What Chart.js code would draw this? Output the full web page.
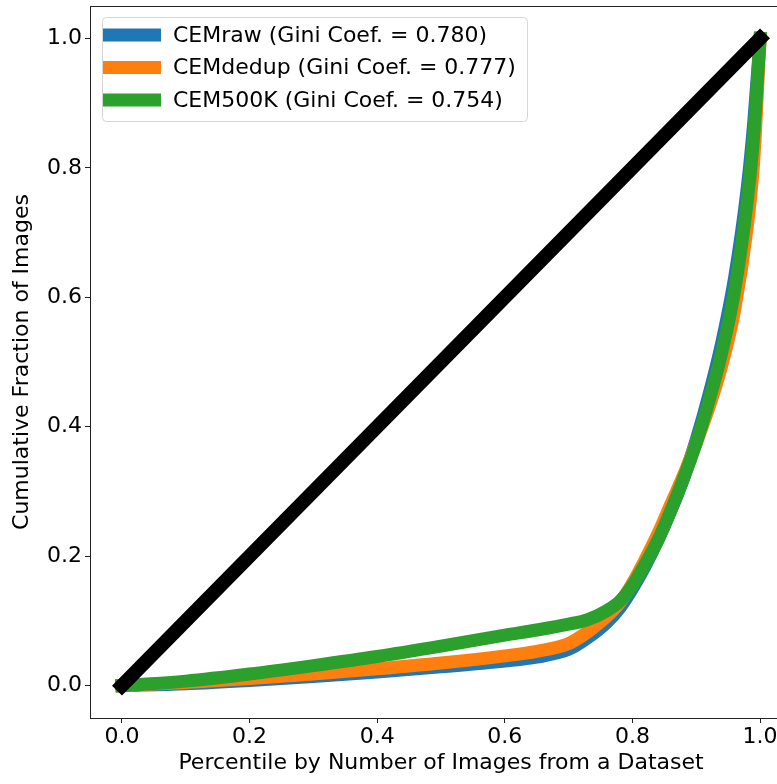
<!DOCTYPE html>
<html>
<head>
<meta charset="utf-8">
<script src="https://cdn.jsdelivr.net/npm/chart.js@4"></script>
<style>
  html, body { margin: 0; padding: 0; background: #fff; overflow: hidden; }
  #wrap { width: 800px; height: 784px; }
</style>
</head>
<body>
<div id="wrap"><canvas id="lorenz" width="800" height="784"></canvas></div>
<script>
// percentile positions shared by the three curves
const percentiles = [0, 0.1, 0.2, 0.3, 0.4, 0.5, 0.6, 0.65, 0.7, 0.73, 0.76, 0.78, 0.8,
                     0.82, 0.84, 0.86, 0.88, 0.9, 0.92, 0.94, 0.96, 0.98, 0.99, 1.0];

// cumulative fraction of images
const cemRaw   = [0, 0.003, 0.008, 0.014, 0.021, 0.029, 0.038, 0.044, 0.056, 0.074, 0.098, 0.12, 0.15,
                  0.185, 0.225, 0.27, 0.32, 0.38, 0.45, 0.53, 0.63, 0.77, 0.87, 1.0];
const cemDedup = [0, 0.005, 0.011, 0.018, 0.026, 0.035, 0.046, 0.053, 0.065, 0.083, 0.107, 0.128, 0.158,
                  0.195, 0.235, 0.28, 0.325, 0.375, 0.43, 0.495, 0.58, 0.71, 0.81, 1.0];
const cem500k  = [0, 0.007, 0.018, 0.031, 0.045, 0.061, 0.078, 0.086, 0.095, 0.102, 0.116, 0.13, 0.155,
                  0.188, 0.225, 0.27, 0.32, 0.375, 0.44, 0.515, 0.61, 0.75, 0.85, 1.0];

// line of equality
const equalityX = [0, 1];
const equalityY = [0, 1];

const seriesLabels = ['CEMraw (Gini Coef. = 0.780)', 'CEMdedup (Gini Coef. = 0.777)', 'CEM500K (Gini Coef. = 0.754)'];
const seriesColors = ['#1f77b4', '#ff7f0e', '#2ca02c'];

const xTicks = [0, 0.2, 0.4, 0.6, 0.8, 1.0];
const yTicks = [0, 0.2, 0.4, 0.6, 0.8, 1.0];

const FONT = 'DejaVu Sans';

function toPoints(xs, ys) {
    return xs.map((x, i) => ({ x: x, y: ys[i] }));
}

// frame around the plot (matplotlib style spines)
const framePlugin = {
    id: 'frame',
    beforeDatasetsDraw(chart) {
        const { ctx, chartArea: a } = chart;
        ctx.save();
        ctx.strokeStyle = '#222';
        ctx.lineWidth = 1;
        ctx.strokeRect(Math.round(a.left) + 0.5, Math.round(a.top) + 0.5,
                       Math.round(a.right - a.left), Math.round(a.bottom - a.top));
        ctx.restore();
    }
};

// legend box drawn inside the plot, upper left
const insideLegend = {
    id: 'insideLegend',
    afterDraw(chart) {
        const { ctx, chartArea: a } = chart;
        const x0 = a.left + 12, y0 = a.top + 11;
        const w = 425, h = 104, r = 4;
        ctx.save();
        ctx.beginPath();
        ctx.roundRect(x0 + 0.5, y0 + 0.5, w, h, r);
        ctx.fillStyle = 'rgba(255,255,255,0.8)';
        ctx.fill();
        ctx.strokeStyle = '#d6d6d6';
        ctx.lineWidth = 1;
        ctx.stroke();

        ctx.font = '22px "' + FONT + '"';
        ctx.textBaseline = 'middle';
        ctx.textAlign = 'left';
        const rows = chart.data.datasets.filter(d => d.label);
        rows.forEach((ds, i) => {
            const cy = y0 + 18 + i * 32.5;
            ctx.strokeStyle = ds.borderColor;
            ctx.lineWidth = 13;
            ctx.lineCap = 'butt';
            ctx.beginPath();
            ctx.moveTo(x0 + 1, cy);
            ctx.lineTo(x0 + 59, cy);
            ctx.stroke();
            ctx.fillStyle = '#000';
            ctx.fillText(ds.label, x0 + 71, cy + 1);
        });
        ctx.restore();
    }
};

const curveSets = [cemRaw, cemDedup, cem500k].map((ys, i) => ({
    label: seriesLabels[i],
    data: toPoints(percentiles, ys),
    borderColor: seriesColors[i],
    backgroundColor: seriesColors[i],
    borderWidth: 13,
    borderCapStyle: 'square',
    borderJoinStyle: 'round',
    cubicInterpolationMode: 'monotone',
    pointRadius: 0,
    fill: false,
    order: 3 - i
}));

curveSets.push({
    label: '',
    data: toPoints(equalityX, equalityY),
    borderColor: '#000',
    borderWidth: 14,
    borderCapStyle: 'square',
    pointRadius: 0,
    fill: false,
    order: 0
});

new Chart(document.getElementById('lorenz'), {
    type: 'line',
    data: { datasets: curveSets },
    options: {
        responsive: false,
        animation: false,
        devicePixelRatio: 1,
        layout: { padding: { top: 6, right: 8, left: 0, bottom: 0 } },
        plugins: {
            legend: { display: false },
            tooltip: { enabled: false }
        },
        scales: {
            x: {
                type: 'linear',
                min: -0.05,
                max: 1.05,
                afterBuildTicks: s => { s.ticks = xTicks.map(v => ({ value: v })); },
                afterFit: s => { s.height = 66; s.paddingLeft = 0; s.paddingRight = 0; },
                border: { display: false },
                grid: { drawOnChartArea: false, drawTicks: true, tickLength: 5, color: '#222' },
                ticks: {
                    color: '#000',
                    padding: 1,
                    maxRotation: 0,
                    font: { family: FONT, size: 22 },
                    callback: v => Number(v).toFixed(1)
                },
                title: {
                    display: true,
                    text: 'Percentile by Number of Images from a Dataset',
                    color: '#000',
                    font: { family: FONT, size: 22 },
                    padding: { top: 0, bottom: 8 }
                }
            },
            y: {
                type: 'linear',
                min: -0.05,
                max: 1.05,
                afterBuildTicks: s => { s.ticks = yTicks.map(v => ({ value: v })); },
                afterFit: s => { s.width = 90; s.paddingTop = 0; s.paddingBottom = 0; },
                border: { display: false },
                grid: { drawOnChartArea: false, drawTicks: true, tickLength: 5, color: '#222' },
                ticks: {
                    color: '#000',
                    padding: 3,
                    font: { family: FONT, size: 22 },
                    callback: v => Number(v).toFixed(1)
                },
                title: {
                    display: true,
                    text: 'Cumulative Fraction of Images',
                    color: '#000',
                    font: { family: FONT, size: 22 },
                    padding: { top: 9, bottom: 0 }
                }
            }
        }
    },
    plugins: [framePlugin, insideLegend]
});
</script>
</body>
</html>
